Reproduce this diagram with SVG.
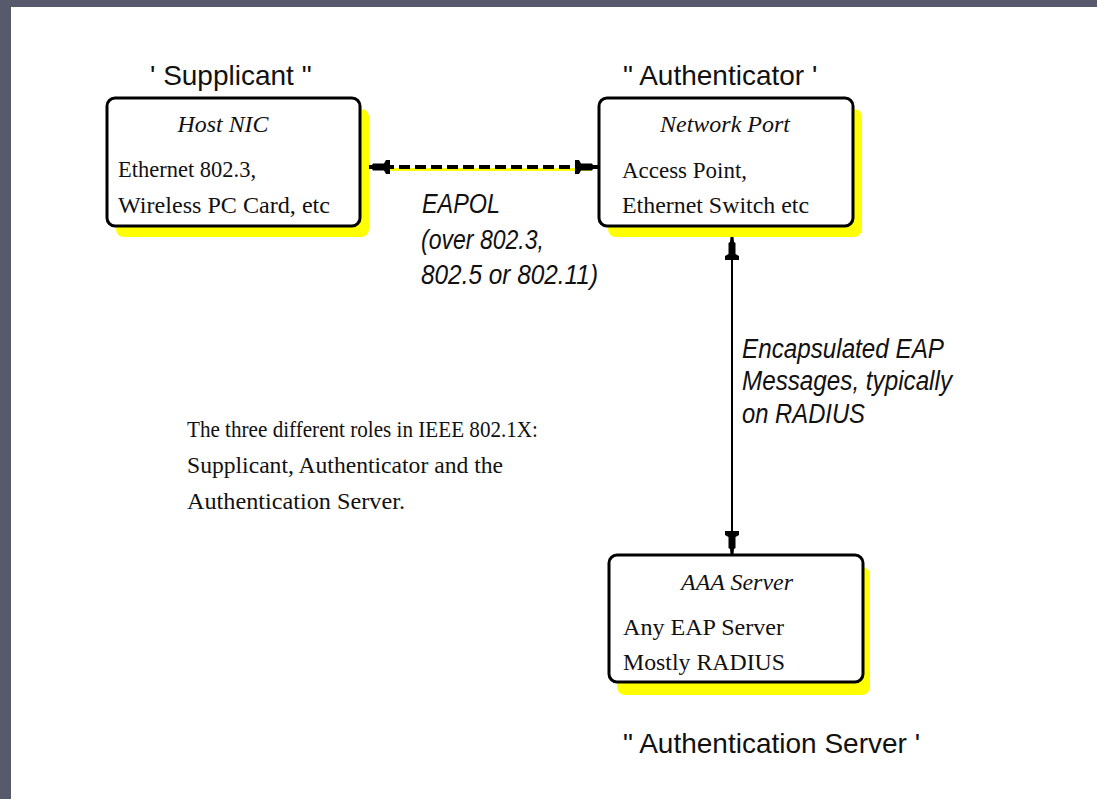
<svg xmlns="http://www.w3.org/2000/svg" width="1097" height="799" viewBox="0 0 1097 799">
  <style>
    .box { fill: #ffffff; stroke: #000000; stroke-width: 3; }
    .shadow { fill: #ffff00; }
    .title { font-family: "Liberation Sans", Arial, sans-serif; font-size: 28px; fill: #111111; }
    .head { font-family: "Liberation Serif", "Times New Roman", serif; font-style: italic; font-size: 24px; fill: #111111; text-anchor: middle; }
    .body { font-family: "Liberation Serif", "Times New Roman", serif; font-size: 24px; fill: #111111; }
    .label { font-family: "Liberation Sans", Arial, sans-serif; font-style: italic; font-size: 27px; fill: #111111; }
    .note { font-family: "Liberation Serif", "Times New Roman", serif; font-size: 24px; fill: #111111; }
  </style>
  <defs>
    <marker id="pin" markerUnits="userSpaceOnUse" markerWidth="26" markerHeight="16" viewBox="-24 -8 26 16" refX="0" refY="0" orient="auto-start-reverse">
      <path d="M0,-1.5 L-5,-2 L-6,-3.5 L-17,-3.5 L-19,-7 L-23,-7 L-23,7 L-19,7 L-17,3.5 L-6,3.5 L-5,2 L0,1.5 Z" fill="#000000"/>
    </marker>
  </defs>

  <!-- frame -->
  <rect x="0" y="0" width="1097" height="799" fill="#575a6d"/>
  <rect x="11" y="7" width="1086" height="792" fill="#ffffff"/>

  <!-- connectors -->
  <g id="connectors">
    <line x1="388" y1="169.5" x2="590" y2="169.5" stroke="#ffff00" stroke-width="3"/>
    <line x1="367" y1="167" x2="598" y2="167" stroke="#000000" stroke-width="4" stroke-dasharray="11 5" marker-start="url(#pin)" marker-end="url(#pin)"/>
    <line x1="732" y1="237" x2="732" y2="554" stroke="#000000" stroke-width="2" marker-start="url(#pin)" marker-end="url(#pin)"/>
  </g>

  <!-- supplicant -->
  <g id="supplicant">
    <text class="title" x="150" y="85">' Supplicant "</text>
    <rect class="shadow" x="116" y="109" width="253" height="128" rx="8"/>
    <rect class="box" x="107" y="98" width="253" height="128" rx="8"/>
    <text class="head" x="223" y="132" textLength="91" lengthAdjust="spacingAndGlyphs">Host NIC</text>
    <text class="body" x="118" y="177" textLength="138" lengthAdjust="spacingAndGlyphs">Ethernet 802.3,</text>
    <text class="body" x="118" y="213" textLength="212" lengthAdjust="spacingAndGlyphs">Wireless PC Card, etc</text>
  </g>

  <!-- authenticator -->
  <g id="authenticator">
    <text class="title" x="623" y="85">" Authenticator '</text>
    <rect class="shadow" x="608" y="109" width="254" height="128" rx="8"/>
    <rect class="box" x="599" y="98" width="254" height="128" rx="8"/>
    <text class="head" x="725" y="132" textLength="130" lengthAdjust="spacingAndGlyphs">Network Port</text>
    <text class="body" x="622" y="178" textLength="125" lengthAdjust="spacingAndGlyphs">Access Point,</text>
    <text class="body" x="622" y="213" textLength="187" lengthAdjust="spacingAndGlyphs">Ethernet Switch etc</text>
  </g>

  <!-- authentication server -->
  <g id="aaa-server">
    <rect class="shadow" x="617" y="567" width="253" height="128" rx="8"/>
    <rect class="box" x="609" y="555" width="254" height="127" rx="8"/>
    <text class="head" x="737" y="590" textLength="112" lengthAdjust="spacingAndGlyphs">AAA Server</text>
    <text class="body" x="623" y="635" textLength="161" lengthAdjust="spacingAndGlyphs">Any EAP Server</text>
    <text class="body" x="623" y="670" textLength="162" lengthAdjust="spacingAndGlyphs">Mostly RADIUS</text>
    <text class="title" x="623" y="753">" Authentication Server '</text>
  </g>

  <!-- link labels -->
  <g id="eapol-label">
    <text class="label" x="422" y="213" textLength="78" lengthAdjust="spacingAndGlyphs">EAPOL</text>
    <text class="label" x="421" y="249" textLength="123" lengthAdjust="spacingAndGlyphs">(over 802.3,</text>
    <text class="label" x="421" y="284" textLength="177" lengthAdjust="spacingAndGlyphs">802.5 or 802.11)</text>
  </g>
  <g id="radius-label">
    <text class="label" x="742" y="358" textLength="202" lengthAdjust="spacingAndGlyphs">Encapsulated EAP</text>
    <text class="label" x="742" y="390" textLength="210" lengthAdjust="spacingAndGlyphs">Messages, typically</text>
    <text class="label" x="742" y="423" textLength="123" lengthAdjust="spacingAndGlyphs">on RADIUS</text>
  </g>

  <!-- caption -->
  <g id="caption">
    <text class="note" x="187" y="437" textLength="351" lengthAdjust="spacingAndGlyphs">The three different roles in IEEE 802.1X:</text>
    <text class="note" x="187" y="473" textLength="316" lengthAdjust="spacingAndGlyphs">Supplicant, Authenticator and the</text>
    <text class="note" x="187" y="509" textLength="218" lengthAdjust="spacingAndGlyphs">Authentication Server.</text>
  </g>
</svg>
